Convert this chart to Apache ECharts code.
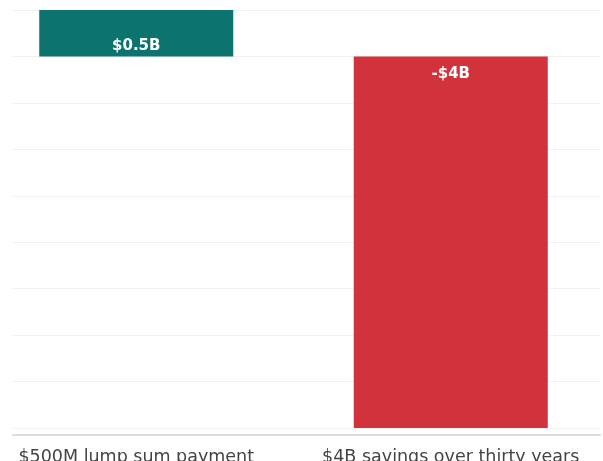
<!DOCTYPE html>
<html><head><meta charset="utf-8">
<script src="https://cdn.jsdelivr.net/npm/echarts@6/dist/echarts.min.js"></script>
<style>html,body{margin:0;padding:0;background:#fff}#c{width:603px;height:461px}</style>
</head><body><div id="c"></div>
<script>
const categories = ["$500M lump sum payment", "$4B savings over thirty years"];
const values = [0.5, -4];
const valueLabels = ["$0.5B", "-$4B"];
const barColors = ["#0c736e", "#d1323b"];
const yMin = -4, yMax = 0.5, yStep = 0.5;

const chart = echarts.init(document.getElementById('c'));
chart.setOption({
  animation: false,
  grid: [
    {left: 13, right: 3, top: 10, bottom: 33, outerBoundsMode: 'none', containLabel: false},
    {left: -21, width: 629, top: 10, bottom: 33, outerBoundsMode: 'none', containLabel: false}
  ],
  xAxis: [
    {gridIndex: 0, type: 'category', data: categories, offset: 7,
     axisLine: {show: true, onZero: false, lineStyle: {color: '#dcdcdc', width: 2}},
     axisTick: {show: false}, axisLabel: {show: false}},
    {gridIndex: 1, type: 'category', data: categories,
     axisLine: {show: false, onZero: false}, axisTick: {show: false},
     axisLabel: {show: true, interval: 0, hideOverlap: false, margin: 20, color: '#444', fontSize: 17.5, fontFamily: 'DejaVu Sans'}}
  ],
  yAxis: [
    {gridIndex: 0, type: 'value', min: yMin, max: yMax, interval: yStep,
     axisLine: {show: false}, axisTick: {show: false}, axisLabel: {show: false},
     splitLine: {show: true, lineStyle: {color: '#f1f1f1', width: 1}}},
    {gridIndex: 1, type: 'value', min: yMin, max: yMax, interval: yStep, show: false,
     splitLine: {show: false}}
  ],
  series: [{
    type: 'bar', xAxisIndex: 1, yAxisIndex: 1, barWidth: 194,
    data: values.map((v, i) => ({
      value: v,
      itemStyle: {color: barColors[i]},
      label: {
        show: true,
        position: v >= 0 ? 'insideBottom' : 'insideTop',
        distance: v >= 0 ? 3 : 10,
        formatter: valueLabels[i],
        color: '#fff', fontSize: 15, fontWeight: 'bold', fontFamily: 'DejaVu Sans'
      }
    }))
  }]
});
</script></body></html>
